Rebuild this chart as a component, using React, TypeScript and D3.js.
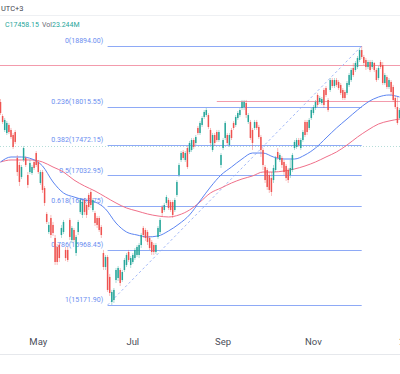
import * as d3 from "d3";

const W = 400;
const H = 374;

// daily candles [open, high, low, close], left edge of view to the last bar
const ohlc: [number, number, number, number][] = [
  [18089, 18132, 17902, 17931], [17888, 17917, 17773, 17802], [17687, 17859, 17658, 17831], [17644, 17816, 17615, 17788],
  [17759, 17788, 17630, 17658], [17687, 17716, 17558, 17586], [17615, 17644, 17414, 17443], [17658, 17687, 17486, 17515],
  [17285, 17328, 17026, 17083], [17184, 17227, 16882, 16940], [17012, 17184, 16983, 17155], [17256, 17457, 17227, 17428],
  [17285, 17314, 17155, 17184], [17040, 17083, 16853, 16897], [17083, 17256, 17055, 17213], [17069, 17184, 17040, 17155],
  [17227, 17256, 17112, 17141], [17356, 17385, 17155, 17184], [17227, 17256, 17055, 17083], [16925, 17112, 16897, 17083],
  [17083, 17112, 16782, 16825], [16853, 16882, 16595, 16638], [16480, 16509, 16336, 16365], [16221, 16365, 16192, 16322],
  [16422, 16466, 16135, 16178], [16322, 16365, 16164, 16207], [16135, 16178, 15747, 15790], [16006, 16049, 15747, 15790],
  [16034, 16063, 15790, 15847], [16178, 16322, 16135, 16279], [16221, 16394, 16192, 16365], [15963, 16006, 15804, 15847],
  [15963, 16006, 15790, 15819], [16394, 16422, 16106, 16150], [16106, 16307, 16063, 16279], [16250, 16279, 16078, 16106],
  [15919, 16178, 15876, 16150], [16221, 16394, 16178, 16365], [16509, 16710, 16480, 16681], [16466, 16681, 16422, 16652],
  [16681, 16710, 16466, 16509], [16609, 16638, 16422, 16466], [16753, 16782, 16537, 16580], [16796, 16825, 16566, 16609],
  [16537, 16710, 16509, 16681], [16494, 16523, 16307, 16350], [16422, 16451, 16279, 16322], [16422, 16451, 16221, 16250],
  [16293, 16322, 16135, 16178], [15919, 15963, 15675, 15718], [15718, 15891, 15675, 15862], [15862, 15891, 15359, 15388],
  [15575, 15618, 15302, 15345], [15215, 15388, 15172, 15359], [15244, 15416, 15201, 15388], [15531, 15704, 15488, 15675],
  [15560, 15732, 15517, 15704], [15675, 15704, 15445, 15488], [15531, 15675, 15503, 15646], [15675, 15847, 15646, 15819],
  [15747, 15919, 15718, 15891], [15934, 15963, 15790, 15819], [15747, 15876, 15704, 15847], [15790, 15919, 15761, 15891],
  [15847, 15991, 15819, 15963], [15891, 16034, 15862, 16006], [15891, 16063, 15847, 16034], [16034, 16207, 15991, 16178],
  [16279, 16307, 16135, 16178], [16250, 16279, 16092, 16135], [16221, 16250, 16034, 16078], [16135, 16164, 15963, 15991],
  [16078, 16106, 15891, 15934], [16034, 16063, 15891, 15934], [15934, 16063, 15905, 16034], [16150, 16307, 16121, 16279],
  [16221, 16422, 16192, 16394], [16580, 16609, 16451, 16494], [16537, 16638, 16509, 16609], [16638, 16753, 16609, 16724],
  [16681, 16710, 16537, 16566], [16652, 16681, 16509, 16537], [16652, 16681, 16422, 16466], [16537, 16710, 16509, 16681],
  [16753, 16968, 16724, 16940], [17040, 17213, 17012, 17184], [17256, 17385, 17227, 17356], [17371, 17399, 17256, 17285],
  [17256, 17385, 17227, 17356], [17428, 17457, 17127, 17155], [17371, 17529, 17342, 17500], [17399, 17572, 17371, 17543],
  [17543, 17572, 17414, 17443], [17500, 17615, 17471, 17586], [17716, 17744, 17615, 17644], [17644, 17816, 17615, 17788],
  [17759, 17888, 17730, 17859], [17874, 17974, 17845, 17946], [17902, 18003, 17874, 17974], [17902, 17931, 17701, 17730],
  [17687, 17716, 17471, 17500], [17399, 17644, 17371, 17615], [17615, 17644, 17457, 17500], [17658, 17687, 17515, 17543],
  [17543, 17687, 17515, 17658], [17184, 17356, 17141, 17328], [17428, 17572, 17399, 17543], [17572, 17816, 17543, 17788],
  [17615, 17644, 17471, 17500], [17471, 17644, 17443, 17615], [17687, 17716, 17543, 17572], [17788, 17816, 17687, 17716],
  [17759, 17902, 17730, 17874], [17859, 17960, 17831, 17931], [17902, 18003, 17874, 17974], [18003, 18118, 17974, 18089],
  [18017, 18118, 17974, 18089], [18075, 18118, 17859, 17902], [17802, 17931, 17773, 17902], [17802, 17831, 17543, 17572],
  [17687, 17716, 17399, 17500], [17716, 17831, 17687, 17802], [17802, 17831, 17687, 17716], [17730, 17759, 17558, 17586],
  [17586, 17615, 17299, 17399], [17399, 17428, 17112, 17184], [17155, 17184, 16925, 16968], [17112, 17141, 16825, 16868],
  [17040, 17083, 16782, 16825], [16997, 17083, 16739, 16796], [16968, 17184, 16925, 17141], [17112, 17314, 17083, 17285],
  [17371, 17428, 17256, 17285], [17256, 17356, 17227, 17328], [17285, 17314, 17141, 17184], [17227, 17256, 17040, 17083],
  [17170, 17198, 16954, 16997], [17112, 17141, 16925, 16968], [17040, 17256, 16997, 17141], [17112, 17356, 17083, 17328],
  [17428, 17543, 17399, 17515], [17443, 17572, 17414, 17543], [17543, 17572, 17443, 17471], [17428, 17572, 17399, 17543],
  [17543, 17687, 17515, 17658], [17802, 17831, 17586, 17615], [17802, 17831, 17615, 17658], [17716, 17859, 17687, 17831],
  [17859, 18003, 17831, 17974], [17931, 18046, 17902, 18017], [18003, 18118, 17974, 18089], [18190, 18219, 18017, 18046],
  [18089, 18176, 18061, 18147], [18075, 18161, 18046, 18132], [18262, 18290, 18003, 18046], [18290, 18319, 18161, 18190],
  [18118, 18147, 17946, 17974], [18262, 18434, 18233, 18405], [18405, 18434, 18290, 18319], [18319, 18434, 18290, 18405],
  [18405, 18434, 18305, 18334], [18377, 18405, 18262, 18290], [18334, 18362, 18190, 18219], [18262, 18290, 18118, 18147],
  [18233, 18262, 18118, 18147], [18219, 18391, 18190, 18362], [18334, 18506, 18305, 18477], [18405, 18578, 18377, 18549],
  [18578, 18650, 18448, 18477], [18549, 18678, 18520, 18650], [18592, 18750, 18563, 18721], [18693, 18865, 18664, 18836],
  [18836, 18894, 18707, 18736], [18736, 18765, 18621, 18650], [18693, 18721, 18549, 18592], [18592, 18693, 18563, 18664],
  [18664, 18693, 18520, 18549], [18592, 18693, 18563, 18664], [18650, 18664, 18520, 18549], [18549, 18578, 18377, 18405],
  [18434, 18607, 18405, 18578], [18664, 18693, 18563, 18592], [18621, 18664, 18334, 18362], [18362, 18506, 18334, 18477],
  [18448, 18477, 18276, 18305], [18305, 18434, 18276, 18405], [18377, 18405, 18190, 18233], [18305, 18334, 18089, 18118],
  [18147, 18176, 17989, 18017], [18017, 18161, 17759, 17788], [17859, 18003, 17831, 17974],
];

// moving averages, read every 5 bars
const maBars = d3.range(0, 191, 5);
const maFast = [
  17227, 17299, 17299, 17270, 17170, 16940, 16782, 16724, 16681, 16652, 16552, 16350, 16221, 16178, 16150, 16164,
  16236, 16336, 16466, 16667, 16868, 17040, 17155, 17270, 17356, 17356, 17299, 17270, 17270, 17328, 17428, 17572,
  17716, 17845, 17974, 18089, 18161, 18190, 18161,
];
const maSlow = [
  17227, 17256, 17256, 17256, 17227, 17155, 17083, 16968, 16882, 16810, 16724, 16638, 16566, 16523, 16480, 16451,
  16437, 16466, 16537, 16652, 16782, 16853, 16925, 16983, 17026, 17083, 17083, 17098, 17127, 17170, 17227, 17299,
  17371, 17471, 17586, 17687, 17773, 17816, 17845,
];

// fibonacci retracement from the June low to the November high
const fibLevels = [0, 0.236, 0.382, 0.5, 0.618, 0.786, 1];
const fibPrices = [18894.0, 18015.55, 17472.15, 17032.95, 16593.75, 15968.45, 15171.9];
const fibBars = [51, 172];

// horizontal resistance lines
const resPrices = [18621, 18104];
const resStartBars = [-20, 103];

const lastClose = 17458.15;
const lastVolume = "23.244M";

const monthLabels = ["May", "Jul", "Sep", "Nov", "2024"];
const monthBars = [18, 63, 106, 149, 195];

const UP = "#26a69a";
const DOWN = "#ef5350";
const FIB = "#8eaaf6";
const FIB_TEXT = "#6b8ef0";
const RES = "#f39bac";
const FONT = "Roboto, 'Noto Sans', sans-serif";

// snap horizontal lines onto the pixel grid
const snap = (v: number) => Math.round(v) + 0.5;

export default function App() {
  const x = d3.scaleLinear().domain([0, 190]).range([0.5, 399.5]);
  const y = d3
    .scaleLinear()
    .domain([fibPrices[6], fibPrices[0]])
    .range([305, 46]);

  const maLine = d3
    .line<number>()
    .x((_, i) => x(maBars[i]))
    .y((d) => y(d))
    .curve(d3.curveMonotoneX);

  const fx0 = x(fibBars[0]);
  const fx1 = x(fibBars[1]);

  return (
    <div style={{ position: "fixed", left: 0, top: 0, width: W, height: H, background: "#fff" }}>
      <svg width={W} height={H} style={{ display: "block" }} fontFamily={FONT}>
        <rect width={W} height={H} fill="#fff" />

        {/* header */}
        <text x={1} y={11} fontSize={7.5} fill="#434651">UTC+3</text>
        <line x1={0} x2={W} y1={15.5} y2={15.5} stroke="#eef0f3" />
        <text x={5} y={26.5} fontSize={7} fill={UP}>
          C{lastClose.toFixed(2)}
          <tspan fill="#6a6d78" dx={3}>Vol</tspan>
          <tspan fill={UP}>{lastVolume}</tspan>
        </text>

        {/* resistance lines */}
        {resPrices.map((p, i) => (
          <line
            key={"r" + i}
            x1={x(resStartBars[i])}
            x2={W}
            y1={snap(y(p))}
            y2={snap(y(p))}
            stroke={RES}
            strokeWidth={1}
          />
        ))}

        {/* last price */}
        <line
          x1={0}
          x2={W}
          y1={snap(y(lastClose))}
          y2={snap(y(lastClose))}
          stroke="#b5ddd8"
          strokeDasharray="1,2"
        />

        {/* fibonacci */}
        <line
          x1={fx0}
          y1={y(fibPrices[6])}
          x2={fx1}
          y2={y(fibPrices[0])}
          stroke="#a3b9f8"
          strokeWidth={1}
          strokeDasharray="2.5,2.5"
        />
        {fibLevels.map((lv, i) => (
          <g key={"f" + i}>
            <line
              x1={fx0}
              x2={fx1}
              y1={snap(y(fibPrices[i]))}
              y2={snap(y(fibPrices[i]))}
              stroke={FIB}
              strokeWidth={1}
            />
            <text x={fx0 - 4.5} y={y(fibPrices[i]) - 3} fontSize={7} fill={FIB_TEXT} textAnchor="end">
              {`${lv}(${fibPrices[i].toFixed(2)})`}
            </text>
          </g>
        ))}

        {/* moving averages */}
        <path d={maLine(maSlow) ?? ""} fill="none" stroke="#f0708a" strokeWidth={1} />
        <path d={maLine(maFast) ?? ""} fill="none" stroke="#5c85f2" strokeWidth={1} />

        {/* candles */}
        {ohlc.map(([o, h, l, c], i) => {
          const col = c >= o ? UP : DOWN;
          const cx = x(i);
          const top = y(Math.max(o, c));
          const bh = Math.max(1, y(Math.min(o, c)) - top);
          return (
            <g key={"c" + i}>
              <line x1={cx} x2={cx} y1={y(h)} y2={y(l)} stroke={col} strokeWidth={0.7} opacity={0.55} />
              <rect x={cx - 0.75} y={top} width={1.5} height={bh} fill={col} />
            </g>
          );
        })}

        {/* time axis */}
        {monthLabels.map((m, i) => (
          <text key={"m" + i} x={x(monthBars[i])} y={344.5} fontSize={9.5} fill="#4a4e59" textAnchor="middle">
            {m}
          </text>
        ))}
        <line x1={0} x2={W} y1={354.5} y2={354.5} stroke="#e6e8ec" />
      </svg>
    </div>
  );
}
